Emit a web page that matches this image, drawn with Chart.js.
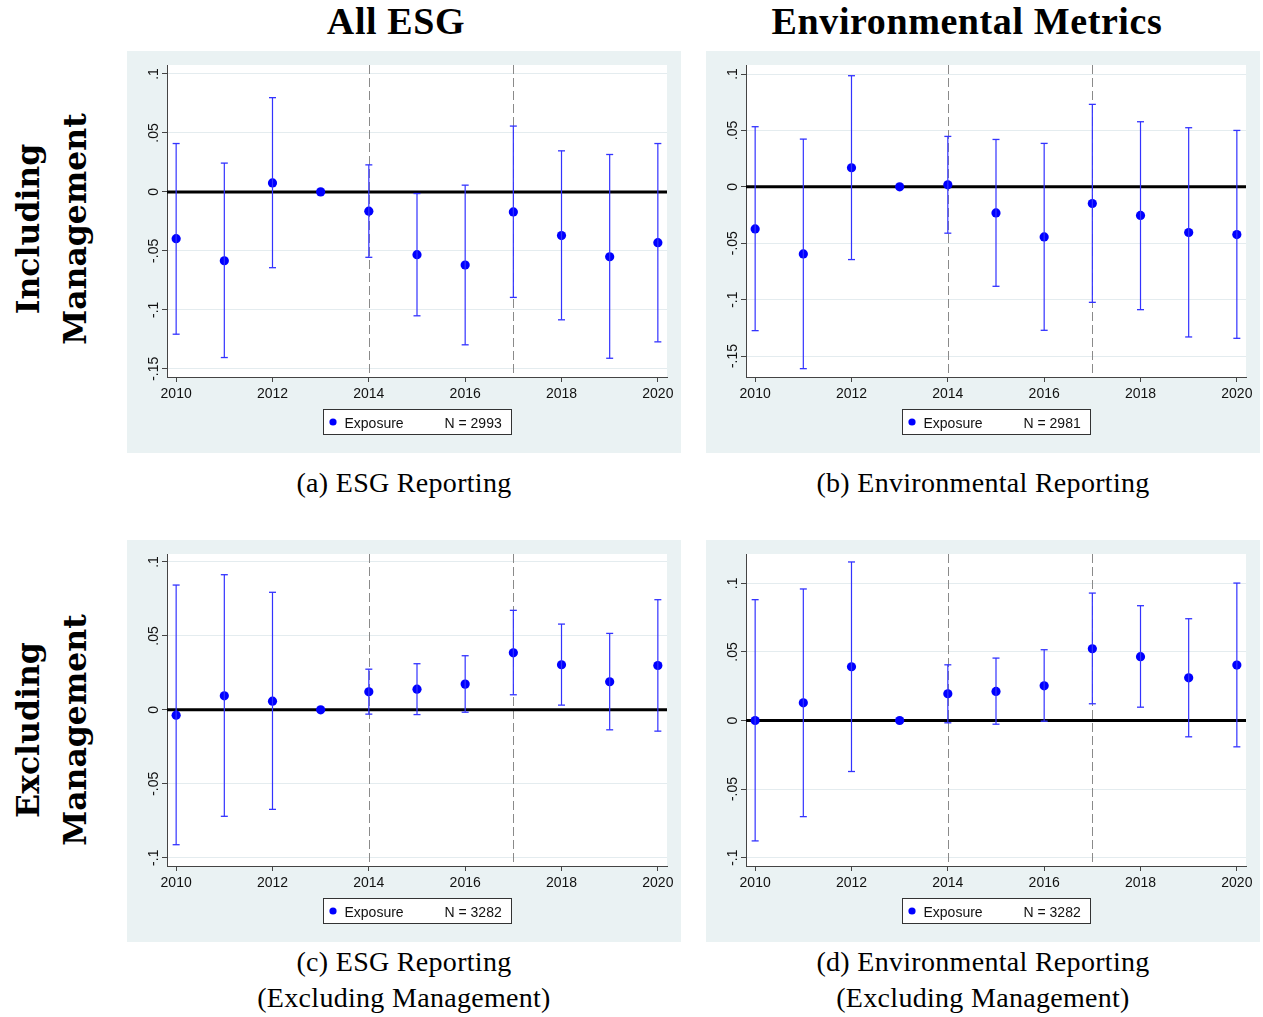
<!DOCTYPE html>
<html>
<head>
<meta charset="utf-8">
<title>Event-study estimates: ESG and environmental reporting</title>
<script src="https://cdn.jsdelivr.net/npm/chart.js"></script>
<style>
  html, body { margin: 0; padding: 0; background: #fff; }
  #page { position: relative; width: 1263px; height: 1017px; overflow: hidden; background: #fff; }
  .panel { position: absolute; width: 554px; height: 402px; background: #EAF2F3; }
  .panel canvas { display: block; }
  .coltitle {
    position: absolute; font-family: "Liberation Serif", "Times New Roman", serif; font-weight: bold;
    font-size: 38px; line-height: 38px; letter-spacing: 0.6px; white-space: nowrap;
    transform: translateX(-50%); color: #000;
  }
  .rowtitle {
    position: absolute; font-family: "DejaVu Serif", serif; font-weight: bold;
    font-size: 31.5px; line-height: 47px; text-align: center; white-space: nowrap; color: #000;
    transform: translate(-50%, -50%) rotate(-90deg);
  }
  .caption {
    position: absolute; font-family: "Liberation Serif", "Times New Roman", serif;
    font-size: 28px; line-height: 36px; letter-spacing: 0.3px; text-align: center; white-space: nowrap;
    transform: translateX(-50%); color: #000;
  }
</style>
</head>
<body>
<div id="page">
  <div class="coltitle" style="left:396px; top:2px;">All ESG</div>
  <div class="coltitle" style="left:967px; top:2px;">Environmental Metrics</div>

  <div class="rowtitle" style="left:51px; top:229px;">Including<br>Management</div>
  <div class="rowtitle" style="left:51px; top:730px;">Excluding<br>Management</div>

  <div class="panel" style="left:127px; top:51px;"><canvas id="chartA" width="554" height="402"></canvas></div>
  <div class="panel" style="left:706px; top:51px;"><canvas id="chartB" width="554" height="402"></canvas></div>
  <div class="panel" style="left:127px; top:540px;"><canvas id="chartC" width="554" height="402"></canvas></div>
  <div class="panel" style="left:706px; top:540px;"><canvas id="chartD" width="554" height="402"></canvas></div>

  <div class="caption" style="left:404px; top:465px;">(a) ESG Reporting</div>
  <div class="caption" style="left:983px; top:465px;">(b) Environmental Reporting</div>
  <div class="caption" style="left:404px; top:944px;">(c) ESG Reporting<br>(Excluding Management)</div>
  <div class="caption" style="left:983px; top:944px;">(d) Environmental Reporting<br>(Excluding Management)</div>
</div>

<script>
// ---- data -------------------------------------------------------------
const years = [2010, 2011, 2012, 2013, 2014, 2015, 2016, 2017, 2018, 2019, 2020];
const xTicks = [2010, 2012, 2014, 2016, 2018, 2020];
const eventYears = [2014, 2017];
const seriesName = 'Exposure';

// (a) ESG reporting, including management
const estA = [-0.0397, -0.0584, 0.0076, 0, -0.0164, -0.0533, -0.0620, -0.0170, -0.0371, -0.0550, -0.0431];
const loA  = [-0.1207, -0.1405, -0.0643, null, -0.0555, -0.1051, -0.1297, -0.0895, -0.1085, -0.1411, -0.1272];
const hiA  = [0.0410, 0.0244, 0.0799, null, 0.0229, -0.0014, 0.0057, 0.0558, 0.0348, 0.0317, 0.0410];
const yTicksA = [-0.15, -0.1, -0.05, 0, 0.05, 0.1];
const nA = 2993;

// (b) Environmental reporting, including management
const estB = [-0.0373, -0.0595, 0.0169, 0, 0.0018, -0.0231, -0.0444, -0.0148, -0.0254, -0.0405, -0.0423];
const loB  = [-0.1275, -0.1612, -0.0645, null, -0.0411, -0.0882, -0.1272, -0.1024, -0.1089, -0.1331, -0.1343];
const hiB  = [0.0533, 0.0423, 0.0985, null, 0.0447, 0.0420, 0.0385, 0.0731, 0.0577, 0.0524, 0.0500];
const yTicksB = [-0.15, -0.1, -0.05, 0, 0.05, 0.1];
const nB = 2981;

// (c) ESG reporting, excluding management
const estC = [-0.0036, 0.0095, 0.0059, 0, 0.0122, 0.0140, 0.0174, 0.0386, 0.0305, 0.0190, 0.0300];
const loC  = [-0.0912, -0.0720, -0.0673, null, -0.0029, -0.0032, -0.0016, 0.0102, 0.0032, -0.0135, -0.0144];
const hiC  = [0.0844, 0.0914, 0.0795, null, 0.0275, 0.0312, 0.0366, 0.0673, 0.0580, 0.0517, 0.0745];
const yTicksC = [-0.1, -0.05, 0, 0.05, 0.1];
const nC = 3282;

// (d) Environmental reporting, excluding management
const estD = [0.0000, 0.0129, 0.0392, 0, 0.0195, 0.0212, 0.0253, 0.0523, 0.0465, 0.0311, 0.0404];
const loD  = [-0.0878, -0.0701, -0.0372, null, -0.0017, -0.0027, -0.0005, 0.0122, 0.0097, -0.0119, -0.0192];
const hiD  = [0.0881, 0.0959, 0.1156, null, 0.0406, 0.0455, 0.0516, 0.0929, 0.0837, 0.0742, 0.1002];
const yTicksD = [-0.1, -0.05, 0, 0.05, 0.1];
const nD = 3282;

// ---- styling ------------------------------------------------------------
const SANS = '"Liberation Sans", Arial, Helvetica, sans-serif';
const DOT_COLOR = '#0000FF';
const CI_COLOR = '#3333FF';
const AXIS_COLOR = '#444444';
const GRID_COLOR = '#E4ECEF';
const X_RANGE = [2009.81, 2020.19];

// Stata-style number labels: ".05", "-.1", "0"
function stataLabel(v) {
  if (v === 0) return '0';
  return String(v).replace('0.', '.');
}

// White plot region, event-year markers, zero line, rotated y labels and the boxed legend
const panelDecor = {
  id: 'panelDecor',
  beforeDraw(chart) {
    const { ctx, chartArea: a } = chart;
    ctx.save();
    ctx.fillStyle = '#ffffff';
    ctx.fillRect(a.left, a.top, a.right - a.left, a.bottom - a.top);
    ctx.restore();
  },
  beforeDatasetsDraw(chart, args, opts) {
    const { ctx, chartArea: a, scales: { x, y } } = chart;
    ctx.save();
    ctx.strokeStyle = '#8a8a8a';
    ctx.lineWidth = 1;
    ctx.setLineDash([9, 4]);
    opts.events.forEach(yr => {
      const px = Math.round(x.getPixelForValue(yr)) + 0.5;
      ctx.beginPath();
      ctx.moveTo(px, a.top);
      ctx.lineTo(px, a.bottom);
      ctx.stroke();
    });
    ctx.setLineDash([]);
    ctx.strokeStyle = '#000000';
    ctx.lineWidth = 3;
    const py = y.getPixelForValue(0);
    ctx.beginPath();
    ctx.moveTo(a.left, py);
    ctx.lineTo(a.right, py);
    ctx.stroke();
    ctx.restore();
  },
  afterDraw(chart, args, opts) {
    const { ctx, chartArea: a, scales: { y } } = chart;
    ctx.save();
    // vertical tick labels on the y axis
    ctx.font = '14px ' + SANS;
    ctx.fillStyle = '#111111';
    ctx.textAlign = 'center';
    ctx.textBaseline = 'alphabetic';
    y.ticks.forEach(t => {
      const py = y.getPixelForValue(t.value);
      ctx.save();
      ctx.translate(a.left - 9, py);
      ctx.rotate(-Math.PI / 2);
      ctx.fillText(stataLabel(t.value), 0, 0);
      ctx.restore();
    });
    // legend box below the x axis
    const bw = 188, bh = 25;
    const bx = Math.round((a.left + a.right) / 2 - bw / 2) + 0.5;
    const by = Math.round(a.bottom + 32) + 0.5;
    ctx.fillStyle = '#ffffff';
    ctx.fillRect(bx, by, bw, bh);
    ctx.strokeStyle = '#333333';
    ctx.lineWidth = 1;
    ctx.strokeRect(bx, by, bw, bh);
    ctx.fillStyle = chart.data.datasets[1].pointBackgroundColor;
    ctx.beginPath();
    ctx.arc(bx + 9.5, by + 12.5, 3.6, 0, Math.PI * 2);
    ctx.fill();
    ctx.fillStyle = '#111111';
    ctx.textAlign = 'left';
    ctx.fillText(chart.data.datasets[1].label, bx + 21, by + 18);
    ctx.fillText('N = ' + opts.n, bx + 121, by + 18);
    ctx.restore();
  }
};

function makePanel(canvasId, est, lo, hi, yTicks, yRange, n) {
  // confidence intervals: one segment per year, separated by gaps
  const ciData = [];
  years.forEach((yr, i) => {
    if (lo[i] !== null && hi[i] !== null) {
      ciData.push({ x: yr, y: lo[i] }, { x: yr, y: hi[i] }, { x: yr, y: null });
    }
  });
  const estData = years.map((yr, i) => ({ x: yr, y: est[i] }));

  return new Chart(document.getElementById(canvasId), {
    type: 'line',
    data: {
      datasets: [
        {
          label: '95% CI',
          data: ciData,
          borderColor: CI_COLOR,
          borderWidth: 1.2,
          spanGaps: false,
          fill: false,
          tension: 0,
          pointStyle: 'line',
          pointRadius: 3.5,
          pointBorderWidth: 1.3,
          pointBorderColor: CI_COLOR,
          pointBackgroundColor: CI_COLOR
        },
        {
          label: seriesName,
          data: estData,
          showLine: false,
          pointStyle: 'circle',
          pointRadius: 4.6,
          pointBorderWidth: 0,
          pointBackgroundColor: DOT_COLOR,
          backgroundColor: DOT_COLOR,
          borderColor: DOT_COLOR
        }
      ]
    },
    plugins: [panelDecor],
    options: {
      responsive: false,
      animation: false,
      events: [],
      layout: { padding: { top: 14, right: 14, left: 0, bottom: 0 } },
      plugins: {
        legend: { display: false },
        tooltip: { enabled: false },
        panelDecor: { events: eventYears, n: n }
      },
      scales: {
        x: {
          type: 'linear',
          position: 'bottom',
          min: X_RANGE[0],
          max: X_RANGE[1],
          afterBuildTicks: s => { s.ticks = xTicks.map(v => ({ value: v })); },
          afterFit: s => { s.height = 76; },
          ticks: {
            font: { family: SANS, size: 14 },
            color: '#111111',
            padding: 4,
            minRotation: 0,
            maxRotation: 0,
            autoSkip: false,
            callback: v => String(v)
          },
          grid: { drawOnChartArea: false, drawTicks: true, tickLength: 5, tickColor: AXIS_COLOR, lineWidth: 1 },
          border: { display: true, color: AXIS_COLOR, width: 1 }
        },
        y: {
          type: 'linear',
          position: 'left',
          min: yRange[0],
          max: yRange[1],
          afterBuildTicks: s => { s.ticks = yTicks.map(v => ({ value: v })); },
          afterFit: s => { s.width = 40; },
          ticks: { display: false },
          grid: { color: GRID_COLOR, lineWidth: 1, drawTicks: true, tickLength: 5, tickColor: AXIS_COLOR },
          border: { display: true, color: AXIS_COLOR, width: 1 }
        }
      }
    }
  });
}

makePanel('chartA', estA, loA, hiA, yTicksA, [-0.1570, 0.1076], nA);
makePanel('chartB', estB, loB, hiB, yTicksB, [-0.1686, 0.1080], nB);
makePanel('chartC', estC, loC, hiC, yTicksC, [-0.1056, 0.1054], nC);
makePanel('chartD', estD, loD, hiD, yTicksD, [-0.1061, 0.1214], nD);
</script>
</body>
</html>
